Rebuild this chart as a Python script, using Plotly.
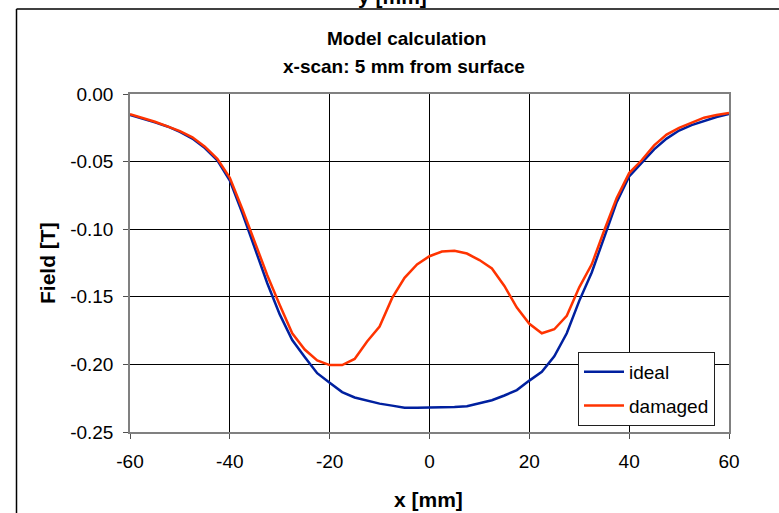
import plotly.graph_objects as go

# ---- data ----
x_mm = [-60, -57.5, -55, -52.5, -50, -47.5, -45, -42.5, -40, -37.5, -35, -32.5, -30,
        -27.5, -25, -22.5, -20, -17.5, -15, -12.5, -10, -7.5, -5, -2.5, 0,
        2.5, 5, 7.5, 10, 12.5, 15, 17.5, 20, 22.5, 25, 27.5, 30, 32.5, 35,
        37.5, 40, 42.5, 45, 47.5, 50, 52.5, 55, 57.5, 60]

field_ideal = [-0.0155, -0.018, -0.021, -0.024, -0.028, -0.033, -0.040, -0.049, -0.064,
               -0.088, -0.114, -0.140, -0.163, -0.182, -0.1945, -0.2065, -0.2135,
               -0.2205, -0.2245, -0.227, -0.229, -0.2305, -0.232, -0.232, -0.232,
               -0.232, -0.2315, -0.231, -0.2288, -0.2265, -0.223, -0.219, -0.212,
               -0.2055, -0.194, -0.177, -0.153, -0.132, -0.106, -0.080, -0.061,
               -0.051, -0.041, -0.033, -0.027, -0.023, -0.020, -0.017, -0.0148]

field_damaged = [-0.015, -0.0175, -0.0205, -0.024, -0.0275, -0.032, -0.039, -0.048, -0.062,
                 -0.085, -0.110, -0.134, -0.156, -0.177, -0.189, -0.197, -0.2005,
                 -0.2005, -0.196, -0.183, -0.172, -0.151, -0.136, -0.126, -0.120,
                 -0.1165, -0.116, -0.118, -0.1228, -0.129, -0.142, -0.158, -0.170,
                 -0.177, -0.174, -0.164, -0.143, -0.126, -0.101, -0.077, -0.0585,
                 -0.049, -0.038, -0.030, -0.025, -0.021, -0.0175, -0.0155, -0.014]

x_ticks = [-60, -40, -20, 0, 20, 40, 60]
x_ticktext = ["-60", "-40", "-20", "0", "20", "40", "60"]
y_ticks = [0.0, -0.05, -0.10, -0.15, -0.20, -0.25]
y_ticktext = ["0.00", "-0.05", "-0.10", "-0.15", "-0.20", "-0.25"]

series_names = ["ideal", "damaged"]
title_lines = ["Model calculation", "x-scan: 5 mm from surface"]

FONT = "Liberation Sans, Arial, sans-serif"
W, H = 779, 513
L, R, T, B = 130, 50, 94, 81
PW, PH = W - L - R, H - T - B


def px(xp):
    return (xp - L) / PW


def py(yp):
    return (H - B - yp) / PH


fig = go.Figure()
fig.add_trace(go.Scatter(x=x_mm, y=field_ideal, mode="lines", name=series_names[0],
                         legendgroup="a",
                         line=dict(color="#00209F", width=2.5)))
fig.add_trace(go.Scatter(x=x_mm, y=field_damaged, mode="lines", name=series_names[1],
                         legendgroup="b",
                         line=dict(color="#FF3300", width=2.5)))

axis_common = dict(showgrid=True, gridcolor="black", gridwidth=1,
                   showline=True, linecolor="#808080", linewidth=1.5, mirror=True,
                   ticks="outside", ticklen=5, tickcolor="#505050", tickwidth=1.2,
                   zeroline=False,
                   tickfont=dict(family=FONT, size=19, color="black"))

fig.update_xaxes(range=[-60, 60], tickmode="array", tickvals=x_ticks,
                 ticktext=x_ticktext, ticklabelstandoff=6, **axis_common)
fig.update_yaxes(range=[-0.25, 0], tickmode="array", tickvals=y_ticks,
                 ticktext=y_ticktext, ticklabelstandoff=6, **axis_common)

annotations = [
    dict(text="<b>" + title_lines[0] + "</b>", x=px(406), y=py(38)),
    dict(text="<b>" + title_lines[1] + "</b>", x=px(404), y=py(66)),
    dict(text="<b>x [mm]</b>", x=px(428), y=py(499), font=dict(family=FONT, size=21, color="black")),
    dict(text="<b>Field [T]</b>", x=px(47), y=0.5, textangle=-90,
         font=dict(family=FONT, size=21, color="black")),
    dict(text="<b>y [mm]</b>", x=px(392), y=py(-4), font=dict(family=FONT, size=21, color="black")),
]
for a in annotations:
    a.setdefault("font", dict(family=FONT, size=19, color="black"))
    a.update(xref="paper", yref="paper", showarrow=False, xanchor="center", yanchor="middle")

shapes = [
    dict(type="line", xref="paper", yref="paper", x0=px(16.5), x1=px(16.5), y0=py(9), y1=py(530),
         line=dict(color="black", width=1.5)),
    dict(type="line", xref="paper", yref="paper", x0=px(16.5), x1=px(800), y0=py(9), y1=py(9),
         line=dict(color="black", width=1.5)),
]

fig.update_layout(
    width=W, height=H,
    margin=dict(l=L, r=R, t=T, b=B),
    paper_bgcolor="white", plot_bgcolor="white",
    font=dict(family=FONT, size=19, color="black"),
    showlegend=True,
    legend=dict(x=px(578), y=py(352), xanchor="left", yanchor="top",
                bgcolor="white", bordercolor="#202020", borderwidth=1,
                itemwidth=40,
                font=dict(family=FONT, size=19, color="black"),
                traceorder="grouped", tracegroupgap=6),
    annotations=annotations,
    shapes=shapes,
)

fig.write_html("out.html")
